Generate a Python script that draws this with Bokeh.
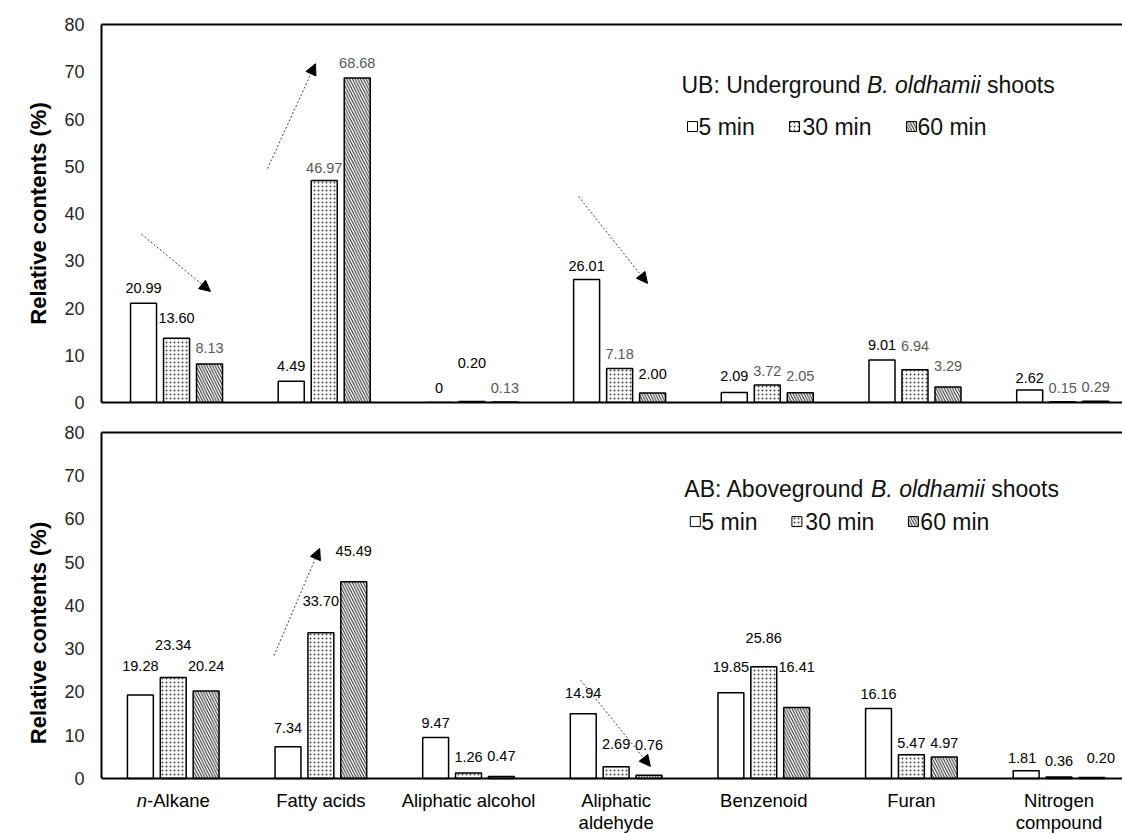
import numpy as np
from bokeh.plotting import figure
from bokeh.models import (ColumnDataSource, LabelSet, Label, Arrow, NormalHead,
                          LinearAxis, FixedTicker, Range1d, Span)
from bokeh.layouts import column
from bokeh.embed import file_html
from bokeh.resources import INLINE
from bokeh.core.properties import value

# ---------------- data ----------------
categories = ["n-Alkane", "Fatty acids", "Aliphatic alcohol", "Aliphatic\naldehyde",
              "Benzenoid", "Furan", "Nitrogen\ncompound"]
series_names = ["5 min", "30 min", "60 min"]
y_ticks = [0, 10, 20, 30, 40, 50, 60, 70, 80]
y_label = "Relative contents (%)"

ub_5 = [20.99, 4.49, 0, 26.01, 2.09, 9.01, 2.62]
ub_30 = [13.60, 46.97, 0.20, 7.18, 3.72, 6.94, 0.15]
ub_60 = [8.13, 68.68, 0.13, 2.00, 2.05, 3.29, 0.29]

ab_5 = [19.28, 7.34, 9.47, 14.94, 19.85, 16.16, 1.81]
ab_30 = [23.34, 33.70, 1.26, 2.69, 25.86, 5.47, 0.36]
ab_60 = [20.24, 45.49, 0.47, 0.76, 16.41, 4.97, 0.20]

ub_title = ("UB: Underground", "B. oldhamii", "shoots")
ab_title = ("AB: Aboveground", "B. oldhamii", "shoots")

# ---------------- styles / layout ----------------
FONT = "Liberation Sans"
K = "#000000"
G = "#595959"
ub_colors = [[K, K, G], [K, G, G], [K, K, G], [K, G, K], [K, G, G], [K, G, G], [K, G, G]]
ab_colors = [[K, K, K]] * 7
ub_dy = [[15, 20, 16], [15, 13, 15], [15, 39, 14], [14, 15, 19], [17, 14, 17], [15, 24, 21], [12, 14, 14]]
ab_dy = [[29, 33, 25], [19, 32, 31], [15, 16, 20], [21, 23, 30], [26, 29, 41], [15, 12, 14], [13, 16, 20]]
ub_dx = [[0, 0, 0]] * 7
ab_dx = [[0, 0, 0]] * 6 + [[-4, 0, 9]]

HATCH = [dict(hatch_pattern="blank"),
         dict(hatch_pattern="dot", hatch_scale=4, hatch_weight=1, hatch_color="#444444"),
         dict(hatch_pattern="left_diagonal_line", hatch_scale=5.5, hatch_weight=1, hatch_color="#222222")]

W = 1122


def fmt(v):
    return "0" if v == 0 else f"{v:.2f}"


def build(vals3, colors, dys, dxs, height, left, top, bottom, xr, yr, title, title_offs,
          leg_x, leg_y_title, leg_y_items, arrows, bottom_labels):
    frame_w = W - left
    frame_h = height - top - bottom
    ppx = frame_w / (xr[1] - xr[0])
    ppy = frame_h / (yr[1] - yr[0])
    p = figure(width=W, height=height, x_range=Range1d(*xr), y_range=Range1d(*yr),
               output_backend="svg", toolbar_location=None,
               min_border_left=left, min_border_right=0, min_border_top=top,
               min_border_bottom=bottom)
    p.outline_line_color = None
    p.grid.visible = False
    p.background_fill_color = "white"
    p.border_fill_color = "white"

    ya = p.yaxis[0]
    ya.ticker = FixedTicker(ticks=y_ticks)
    ya.bounds = (0, 80)
    ya.axis_label = y_label
    ya.axis_label_text_font = FONT
    ya.axis_label_text_font_size = "22px"
    ya.axis_label_text_font_style = "bold"
    ya.axis_label_text_color = "black"
    ya.axis_label_standoff = 10
    ya.major_label_text_font = FONT
    ya.major_label_text_font_size = "18px"
    ya.major_label_text_color = "#262626"
    ya.major_label_standoff = 17
    ya.major_tick_line_color = None
    ya.minor_tick_line_color = None
    ya.major_tick_out = 0
    ya.major_tick_in = 0
    ya.minor_tick_out = 0
    ya.axis_line_width = 2
    ya.axis_line_color = "black"

    xa = p.xaxis[0]
    if bottom_labels:
        xa.visible = False
        p.add_layout(Span(location=0, dimension="width", line_color="black", line_width=2))
    else:
        xa.ticker = FixedTicker(ticks=[])
        xa.major_tick_out = 0
        xa.major_tick_in = 0
        xa.minor_tick_out = 0
        xa.major_label_text_font_size = "0px"
        xa.axis_line_width = 2
        xa.axis_line_color = "black"

    top_ax = LinearAxis(ticker=FixedTicker(ticks=[]), major_tick_out=0, major_tick_in=0,
                        minor_tick_out=0, major_label_text_font_size="0px",
                        axis_line_width=2, axis_line_color="black")
    p.add_layout(top_ax, "above")

    idx = np.arange(len(categories))
    step = 33.0 / ppx
    bw = 26.0 / ppx
    for j in range(3):
        vals = vals3[j]
        src = ColumnDataSource(dict(
            x=idx + (j - 1) * step,
            top=vals,
            label=[fmt(v) for v in vals],
            color=[c[j] for c in colors],
            dy=[d[j] for d in dys],
            dx=[d[j] for d in dxs],
        ))
        p.vbar(x="x", top="top", width=bw, source=src, fill_color="white",
               line_color="black", line_width=1.5, **HATCH[j])
        p.add_layout(LabelSet(x="x", y="top", text="label", source=src,
                              x_offset="dx", y_offset="dy",
                              text_align="center", text_baseline="middle",
                              text_color="color", text_font=value(FONT),
                              text_font_size=value("14.5px")))

    # trend arrows
    for (x0, y0, x1, y1) in arrows:
        p.add_layout(Arrow(x_start=x0, y_start=y0, x_end=x1, y_end=y1,
                           line_color="#404040", line_width=1, line_dash="2 2",
                           end=NormalHead(size=11, fill_color="black", line_color="black",
                                          line_width=1)))

    # legend title (mixed italic)
    for txt, off, style in zip(title, title_offs, ["normal", "italic", "normal"]):
        p.add_layout(Label(x=leg_x, y=leg_y_title, x_offset=off, text=txt,
                           text_font=FONT, text_font_size="23px", text_font_style=style,
                           text_color="#111111", text_align="left", text_baseline="middle"))
    # legend items
    sq_offs = [11, 113, 230]
    tx_offs = [17, 121, 236]
    for j in range(3):
        p.scatter(x=[leg_x + sq_offs[j] / ppx], y=[leg_y_items], marker="square", size=10,
                  fill_color="white", line_color="black", line_width=1, **HATCH[j])
        p.add_layout(Label(x=leg_x, y=leg_y_items, x_offset=tx_offs[j], text=series_names[j],
                           text_font=FONT, text_font_size="23px", text_color="#111111",
                           text_align="left", text_baseline="middle"))

    if bottom_labels:
        y1 = -22.0 / ppy
        y2 = -44.0 / ppy
        fs = 18.5
        for i, cat in enumerate(categories):
            lines = cat.split("\n")
            if cat.startswith("n-"):
                w_n = 0.556 * fs
                w_rest = 3.39 * fs
                start = -(w_n + w_rest) / 2
                p.add_layout(Label(x=i, y=y1, x_offset=start, text="n", text_font=FONT,
                                   text_font_size=f"{fs}px", text_font_style="italic",
                                   text_color="black", text_align="left",
                                   text_baseline="middle"))
                p.add_layout(Label(x=i, y=y1, x_offset=start + w_n, text=cat[1:],
                                   text_font=FONT, text_font_size=f"{fs}px",
                                   text_color="black", text_align="left",
                                   text_baseline="middle"))
                continue
            for k, ln in enumerate(lines):
                p.add_layout(Label(x=i, y=[y1, y2][k], text=ln, text_font=FONT,
                                   text_font_size=f"{fs}px", text_color="black",
                                   text_align="center", text_baseline="middle"))
    return p


# top panel: frame x 101..1122, y 24..402
p_top = build([ub_5, ub_30, ub_60], ub_colors, ub_dy, ub_dx,
              height=416, left=101, top=24, bottom=14, xr=(-0.508, 6.405), yr=(0, 80),
              title=ub_title, title_offs=[0, 185.4, 305.5],
              leg_x=3.419, leg_y_title=67.3, leg_y_items=58.4,
              arrows=[(-0.237, 35.6, 0.230, 23.5), (0.616, 49.5, 0.941, 71.7),
                      (2.722, 43.6, 3.189, 25.2)],
              bottom_labels=False)

# bottom panel: frame x 97..1122, y 432..833 (zero line at 778)
p_bot = build([ab_5, ab_30, ab_60], ab_colors, ab_dy, ab_dx,
              height=417, left=97, top=16, bottom=0, xr=(-0.486, 6.430), yr=(-12.72, 80),
              title=ab_title, title_offs=[0, 186.7, 306.8],
              leg_x=3.462, leg_y_title=67.05, leg_y_items=59.4,
              arrows=[(0.682, 28.4, 0.992, 53.2), (2.76, 22.7, 3.232, 2.8)],
              bottom_labels=True)

layout = column(p_top, p_bot, spacing=0)
open("out.html", "w").write(file_html(layout, INLINE))
